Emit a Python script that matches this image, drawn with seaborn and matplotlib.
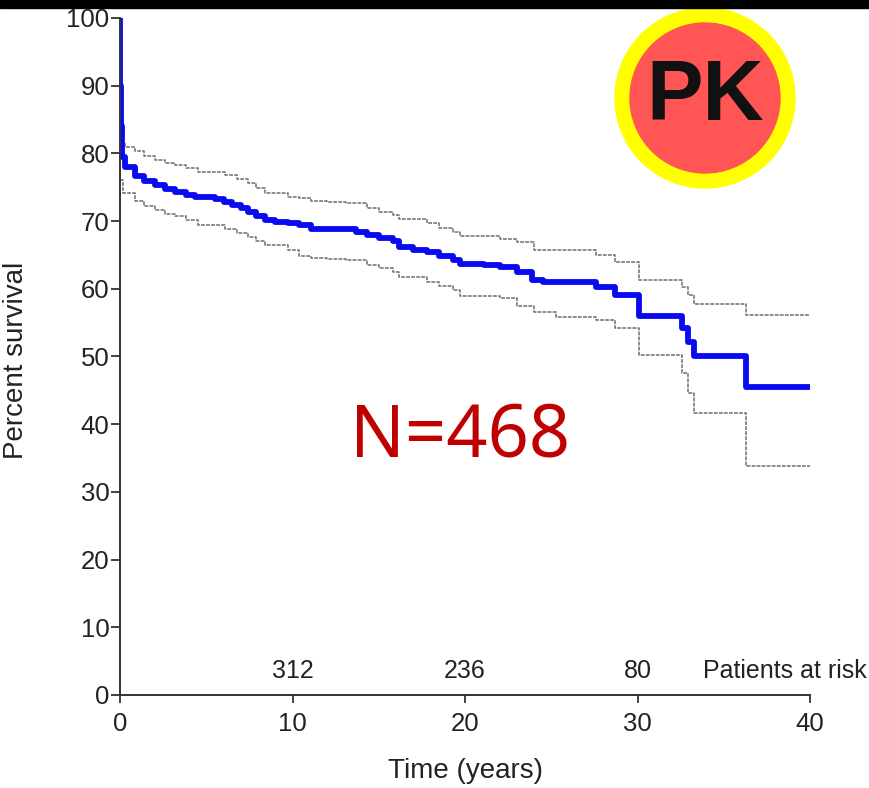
import matplotlib
matplotlib.use("Agg")
import matplotlib.pyplot as plt
from matplotlib.patches import Rectangle, Circle
import seaborn as sns
import pandas as pd

# ---- data ----
surv_t = [0, 0.02, 0.05, 0.1, 0.3, 0.87, 1.4, 2.0, 2.6, 3.2, 3.8, 4.35, 5.5, 6.0, 6.5, 7.0,
          7.4, 7.9, 8.4, 9.0, 9.75, 10.4, 11.1, 12.0, 13.1, 13.7, 14.3, 15.0, 15.8, 16.2,
          17.0, 17.8, 18.5, 19.3, 19.7, 21.1, 22.0, 23.0, 23.9, 24.5, 27.6, 28.7, 30.1,
          32.6, 32.9, 33.3, 36.3, 40]
surv_v = [100, 90, 84, 79.5, 78.0, 76.6, 75.9, 75.3, 74.8, 74.3, 73.9, 73.6, 73.2, 72.8,
          72.4, 71.9, 71.4, 70.8, 70.2, 69.9, 69.7, 69.4, 68.9, 68.85, 68.8, 68.4, 67.9,
          67.5, 67.0, 66.2, 65.8, 65.5, 64.9, 64.3, 63.6, 63.5, 63.2, 62.5, 61.3, 61.0,
          60.3, 59.1, 56.0, 54.2, 52.1, 50.1, 45.5, 45.5]

upper_t = [0, 0.3, 0.87, 1.4, 2.0, 2.6, 3.2, 3.8, 4.5, 6.1, 6.8, 7.4, 7.9, 8.4, 9.75, 10.4,
           11.1, 12.0, 13.1, 14.3, 15.0, 15.8, 16.2, 17.8, 18.5, 19.3, 19.7, 22.0, 23.0,
           24.0, 27.6, 28.7, 30.1, 32.6, 32.9, 33.3, 36.3, 40]
upper_v = [81.5, 81.0, 80.3, 79.6, 79.0, 78.6, 78.3, 77.8, 77.3, 76.8, 76.2, 75.6, 74.9,
           74.1, 73.6, 73.4, 72.9, 72.8, 72.6, 71.9, 71.4, 70.9, 70.3, 69.7, 69.0, 68.4,
           67.8, 67.4, 66.9, 65.7, 65.0, 64.0, 61.3, 60.3, 59.1, 57.8, 56.1, 56.1]

lower_t = [0, 0.2, 0.87, 1.4, 2.0, 2.6, 3.2, 3.8, 4.5, 6.1, 6.8, 7.4, 7.9, 8.4, 9.75, 10.4,
           11.1, 12.0, 13.1, 14.3, 15.0, 15.8, 16.2, 17.8, 18.5, 19.3, 19.7, 22.0, 23.0,
           24.0, 25.3, 27.6, 28.7, 30.1, 32.6, 32.9, 33.3, 36.3, 40]
lower_v = [76.1, 74.1, 72.9, 72.2, 71.6, 71.1, 70.7, 70.1, 69.4, 68.9, 68.3, 67.7, 67.1,
           66.5, 65.7, 64.8, 64.5, 64.4, 64.3, 63.5, 63.0, 62.5, 61.8, 61.0, 60.4, 59.8,
           58.9, 58.7, 57.4, 56.6, 55.9, 55.4, 54.2, 50.2, 47.5, 44.6, 41.6, 33.8, 33.8]

risk_t = [10, 20, 30]
risk_n = ["312", "236", "80"]
x_ticks = [0, 10, 20, 30, 40]
y_ticks = [0, 10, 20, 30, 40, 50, 60, 70, 80, 90, 100]

sns.set_style("ticks")
plt.rcParams["font.family"] = ["Liberation Sans", "DejaVu Sans"]

W, H = 870, 788
fig = plt.figure(figsize=(W / 100, H / 100), dpi=100)
ax = fig.add_axes([120 / W, 93 / H, 690 / W, 677 / H])

df_s = pd.DataFrame({"t": surv_t, "v": surv_v})
df_u = pd.DataFrame({"t": upper_t, "v": upper_v})
df_l = pd.DataFrame({"t": lower_t, "v": lower_v})

for d in (df_u, df_l):
    sns.lineplot(data=d, x="t", y="v", ax=ax, drawstyle="steps-post", color="#6e6e6e",
                 lw=1.1, linestyle=(0, (2.5, 0.8)), estimator=None)
sns.lineplot(data=df_s, x="t", y="v", ax=ax, drawstyle="steps-post", color="#0a0af0",
             lw=4.2, estimator=None)

ax.set_xlim(0, 40)
ax.set_ylim(0, 100)
ax.set_xticks(x_ticks)
ax.set_yticks(y_ticks)
ax.tick_params(axis="both", width=1.3, color="#333333", labelsize=18.5,
               labelcolor="#222222")
ax.tick_params(axis="y", length=6.5, pad=1)
ax.tick_params(axis="x", length=6, pad=6)
for s in ("top", "right"):
    ax.spines[s].set_visible(False)
for s in ("left", "bottom"):
    ax.spines[s].set_linewidth(1.4)
    ax.spines[s].set_color("#333333")
ax.set_xlabel("Time (years)", fontsize=20, color="#222222")
ax.set_ylabel("Percent survival", fontsize=20, color="#222222")
ax.xaxis.set_label_coords(0.5, (695 - 758) / 677)
ax.yaxis.set_label_coords((29 - 120) / 690, 0.495)

for t, n in zip(risk_t, risk_n):
    ax.text(t, 2.5, n, ha="center", va="baseline", fontsize=18, color="#222222")
ax.text(33.8, 2.5, "Patients at risk", ha="left", va="baseline", fontsize=18,
        color="#222222", clip_on=False)

ax.text(19.7, 35.3, "N=468", ha="center", va="baseline", fontsize=52, color="#c00000",
        family=["Noto Sans", "DejaVu Sans"])

# top black band
fig.add_artist(Rectangle((0, 1 - 8 / H), 1, 8 / H, transform=fig.transFigure,
                         color="black", zorder=10))
# PK badge
cx, cy = 705 / 100, (H - 98) / 100
fig.add_artist(Circle((cx, cy), 0.90, transform=fig.dpi_scale_trans, color="#ffff00", zorder=5))
fig.add_artist(Circle((cx, cy), 0.75, transform=fig.dpi_scale_trans, color="#ff5555", zorder=6))
fig.text(cx / (W / 100), cy / (H / 100), "PK", ha="center", va="center", fontsize=61,
         fontweight="bold", color="#111111", family=["Liberation Sans", "DejaVu Sans"],
         zorder=7)

fig.savefig("out.png", dpi=100)
